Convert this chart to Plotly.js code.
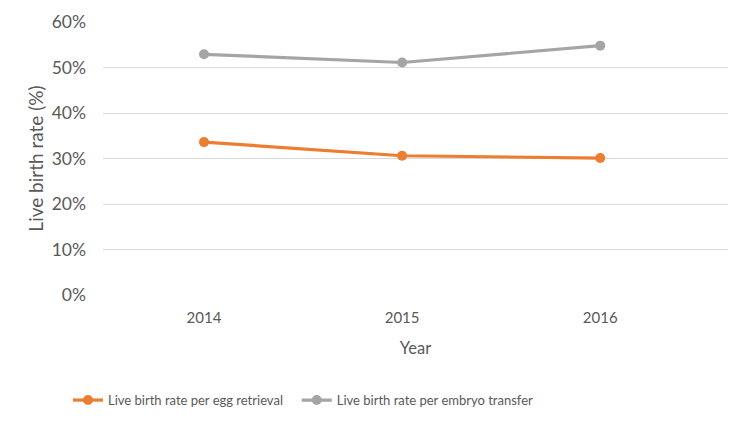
<!DOCTYPE html>
<html>
<head>
<meta charset="utf-8">
<script src="https://cdn.plot.ly/plotly-3.0.1.min.js"></script>
<style>html,body{margin:0;padding:0;background:#fff;}#chart{width:750px;height:429px;}</style>
</head>
<body>
<div id="chart"></div>
<script>
const years = ['2014', '2015', '2016'];
const perEggRetrieval = [33.6, 30.6, 30.1];
const perEmbryoTransfer = [52.9, 51.1, 54.8];
const seriesNames = ['Live birth rate per egg retrieval', 'Live birth rate per embryo transfer'];

const fam = 'Lato, Open Sans, sans-serif';
const grey = '#595959';

const traces = [
  {x: years, y: perEggRetrieval, name: seriesNames[0], type: 'scatter', mode: 'lines+markers',
   line: {color: '#ED7D31', width: 3.2}, marker: {color: '#ED7D31', size: 10}, legend: 'legend'},
  {x: years, y: perEmbryoTransfer, name: seriesNames[1], type: 'scatter', mode: 'lines+markers',
   line: {color: '#A5A5A5', width: 3.2}, marker: {color: '#A5A5A5', size: 10}, legend: 'legend2'}
];

const legendFont = {family: fam, size: 13, color: grey};

const layout = {
  width: 750, height: 429,
  margin: {l: 103, r: 22, t: 22, b: 134},
  paper_bgcolor: '#fff', plot_bgcolor: '#fff',
  font: {family: fam, size: 14.5, color: grey},
  showlegend: true,
  legend: {orientation: 'h', x: -0.056, xanchor: 'left', y: -0.385, yanchor: 'middle',
           font: legendFont, itemwidth: 30, bgcolor: 'rgba(0,0,0,0)'},
  legend2: {orientation: 'h', x: 0.31, xanchor: 'left', y: -0.385, yanchor: 'middle',
           font: legendFont, itemwidth: 30, bgcolor: 'rgba(0,0,0,0)'},
  xaxis: {type: 'category', range: [-0.51, 2.645], showgrid: false, zeroline: false, showline: false,
          ticks: '', tickfont: {family: fam, size: 15, color: grey}, ticklabelstandoff: 12,
          title: {text: 'Year', font: {family: fam, size: 16.5, color: grey}, standoff: 17}},
  yaxis: {range: [0, 60], dtick: 10, ticksuffix: '%', showgrid: true, gridcolor: '#D9D9D9', gridwidth: 1,
          zeroline: false, showline: false, ticks: '', tickfont: {family: fam, size: 17.5, color: grey},
          ticklabelstandoff: 16,
          title: {text: 'Live birth rate (%)', font: {family: fam, size: 19, color: grey}, standoff: 3}}
};

Plotly.newPlot('chart', traces, layout, {displayModeBar: false, staticPlot: true});
</script>
</body>
</html>
